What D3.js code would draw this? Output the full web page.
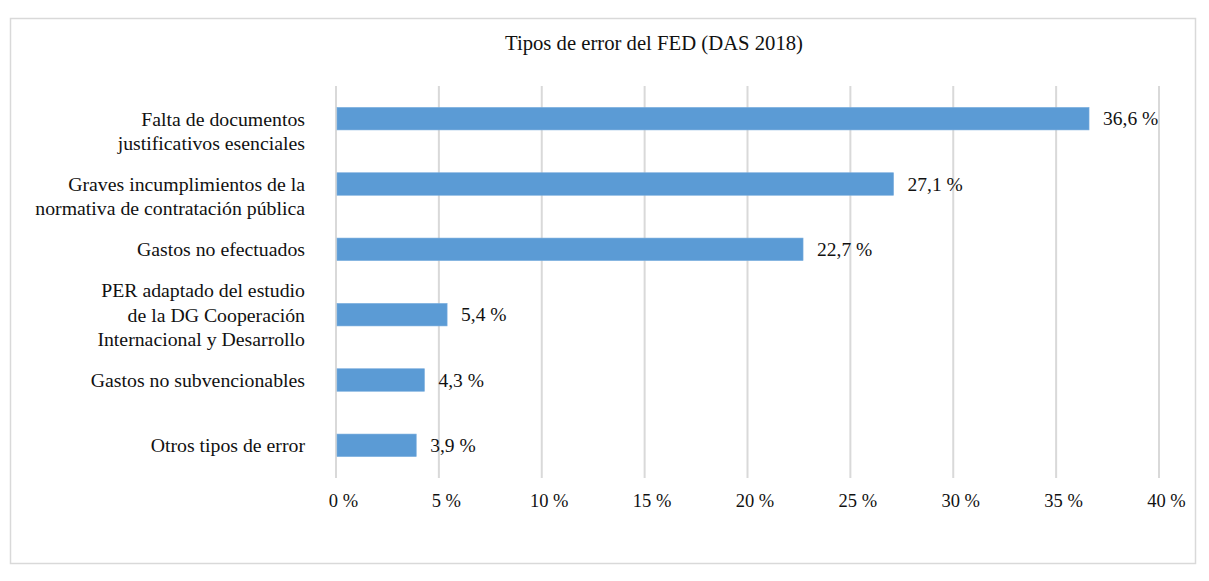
<!DOCTYPE html>
<html><head><meta charset="utf-8">
<script src="https://cdn.jsdelivr.net/npm/d3@7"></script>
<style>
body{margin:0;background:#fff;}
text{font-family:"Liberation Serif","DejaVu Serif",serif;fill:#111;}
</style></head>
<body><svg id="c" width="1209" height="581"></svg>
<script>
const categories = [
  ["Falta de documentos", "justificativos esenciales"],
  ["Graves incumplimientos de la", "normativa de contratación pública"],
  ["Gastos no efectuados"],
  ["PER adaptado del estudio", "de la DG Cooperación", "Internacional y Desarrollo"],
  ["Gastos no subvencionables"],
  ["Otros tipos de error"]
];
const values = [36.6, 27.1, 22.7, 5.4, 4.3, 3.9];
const valueLabels = ["36,6 %", "27,1 %", "22,7 %", "5,4 %", "4,3 %", "3,9 %"];
const ticks = [0, 5, 10, 15, 20, 25, 30, 35, 40];
const title = "Tipos de error del FED (DAS 2018)";

const svg = d3.select("#c");
svg.append("rect").attr("x",10.5).attr("y",18.5).attr("width",1185).attr("height",545)
  .attr("fill","#fff").attr("stroke","#d9d9d9").attr("stroke-width",1.5);

svg.append("text").attr("x",654).attr("y",50).attr("text-anchor","middle")
  .attr("font-size",20.7).text(title);

const x = d3.scaleLinear().domain([0,40]).range([336,1159]);
const y = d3.scaleBand().domain(d3.range(categories.length)).range([86,478]).paddingInner(0.655).paddingOuter(0.3275);

svg.append("g").selectAll("line").data(ticks).join("line")
  .attr("x1",d=>x(d)).attr("x2",d=>x(d)).attr("y1",86).attr("y2",478)
  .attr("stroke","#d9d9d9").attr("stroke-width",2);

const ax = svg.append("g").attr("transform","translate(7,478)")
  .call(d3.axisBottom(x).tickValues(ticks).tickSize(0).tickPadding(16).tickFormat(d=>d+" %"));
ax.select(".domain").remove();
ax.selectAll("text").attr("font-size",18.5).attr("fill","#111").style("font-family",'"Liberation Serif",serif');

svg.append("g").selectAll("rect").data(values).join("rect")
  .attr("x",x(0)+1).attr("y",(d,i)=>y(i)).attr("height",y.bandwidth())
  .attr("width",d=>x(d)-x(0)-1).attr("fill","#5b9bd5").attr("stroke","#7aaede").attr("stroke-width",0.6);

svg.append("g").selectAll("text").data(values).join("text")
  .attr("x",d=>x(d)+14).attr("y",(d,i)=>y(i)+y.bandwidth()/2).attr("dy","0.35em")
  .attr("font-size",19.5).text((d,i)=>valueLabels[i]);

const lg = svg.append("g").selectAll("text").data(categories).join("text")
  .attr("text-anchor","end").attr("font-size",19.8)
  .attr("transform",(d,i)=>`translate(305,${y(i)+y.bandwidth()/2})`);
lg.each(function(lines){
  const start = -Math.floor((lines.length-1)/2);
  d3.select(this).selectAll("tspan").data(lines).join("tspan")
    .attr("x",0).attr("y",(l,j)=>(start+j)*24.5).attr("dy","0.35em").text(l=>l);
});
</script></body></html>
